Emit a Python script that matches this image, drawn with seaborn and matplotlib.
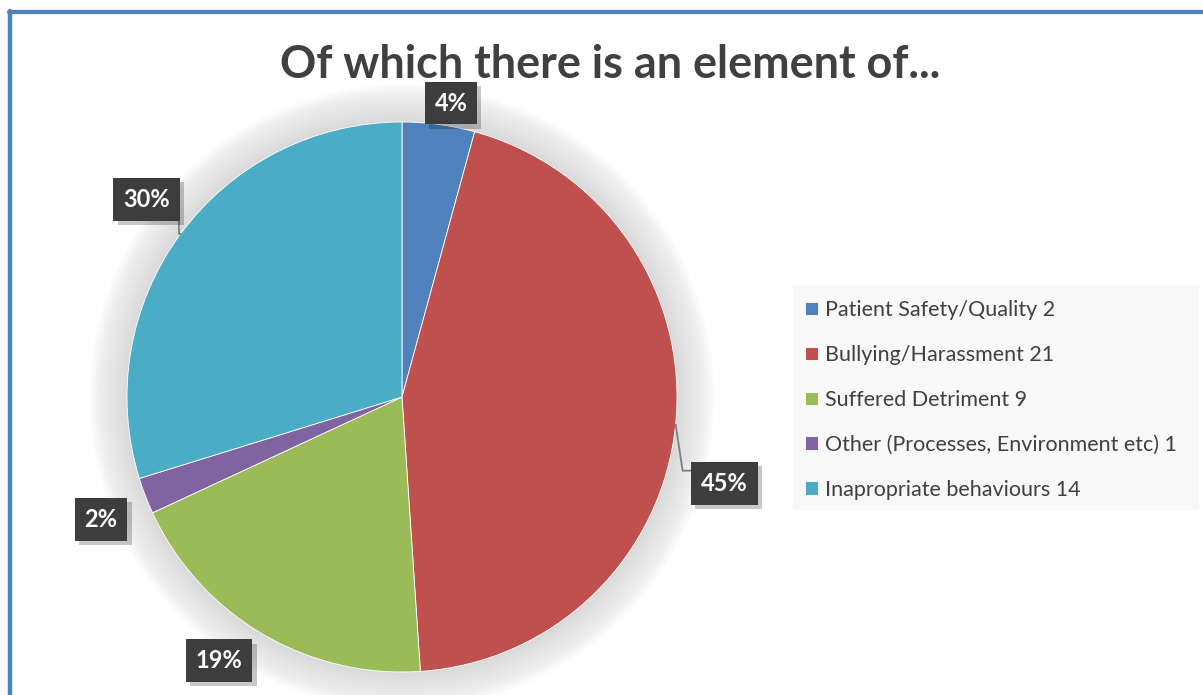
import numpy as np
import matplotlib
matplotlib.use("Agg")
import matplotlib.pyplot as plt
import matplotlib.patheffects as pe
from matplotlib.patches import Circle, Rectangle
from matplotlib.lines import Line2D
import seaborn as sns

# Complaint categories and counts
categories = [
    "Patient Safety/Quality",
    "Bullying/Harassment",
    "Suffered Detriment",
    "Other (Processes, Environment etc)",
    "Inapropriate behaviours",
]
counts = [2, 21, 9, 1, 14]
title = "Of which there is an element of..."

sns.set_theme(style="white")
plt.rcParams["font.family"] = ["Lato", "DejaVu Sans"]

palette = sns.color_palette(["#4F81BD", "#C0504D", "#9BBB59", "#8064A2", "#4BACC6"])
legend_labels = [f"{c} {n}" for c, n in zip(categories, counts)]

W, H = 1203, 695
fig = plt.figure(figsize=(W / 100, H / 100), dpi=100)
fig.patch.set_facecolor("white")
ax = fig.add_axes([0, 0, 1, 1])

cx, cy, R = 402, H - 397, 275

# soft glow behind the pie
n_layers = 30
for i in range(n_layers):
    r = R + 38 * (1 - i / n_layers)
    ax.add_patch(Circle((cx, cy), r, color="#707070", alpha=0.006, lw=0, zorder=1))

wedges, _ = ax.pie(
    counts, colors=palette, startangle=90, counterclock=False,
    center=(cx, cy), radius=R, frame=True,
    wedgeprops=dict(edgecolor="white", linewidth=0.6, zorder=2),
)
ax.set_xlim(0, W)
ax.set_ylim(0, H)
ax.set_aspect("equal")
ax.axis("off")

total = sum(counts)
pct_labels = [f"{round(100 * v / total):d}%" for v in counts]

# label placement: radius and angle nudge (degrees) relative to each wedge's middle
label_r = [298, 334, 321, 325, 323]
label_dtheta = [-1.8, -9.3, -4.1, 1.1, -1.4]

for i, (w, lab, lr, dth) in enumerate(zip(wedges, pct_labels, label_r, label_dtheta)):
    mid = 0.5 * (w.theta1 + w.theta2)
    ang = np.deg2rad(mid + dth)
    tx, ty = cx + lr * np.cos(ang), cy + lr * np.sin(ang)
    t = ax.text(tx, ty, lab, ha="center", va="center", fontsize=17,
                fontweight="bold", color="white", zorder=6,
                bbox=dict(boxstyle="square,pad=0.42", fc="#3d3d3d", ec="none", lw=0))
    t.get_bbox_patch().set_path_effects(
        [pe.SimplePatchShadow(offset=(3, -3), shadow_rgbFace="#000000", alpha=0.22), pe.Normal()])

    am = np.deg2rad(mid)
    ax_, ay_ = cx + R * np.cos(am), cy + R * np.sin(am)
    if i == 1:
        # leader to the box's left side
        ex, ey = ax_ + 7, ty + 13
        ax.plot([ax_, ex, tx - 32], [ay_, ey, ey], color="#7f7f7f", lw=1.3, zorder=5)
    elif i == 4:
        # leader from the box's lower right corner
        ax.plot([tx + 32, tx + 32, ax_], [ty - 8, ay_, ay_], color="#7f7f7f", lw=1.3, zorder=5)

# title
fig.text(610 / W, 1 - 78 / H, title, ha="center", va="baseline", fontsize=32.4,
         fontweight="bold", color="#404040")

# legend panel
fig.add_artist(Rectangle((793 / W, 1 - 510 / H), (1199 - 793) / W, (510 - 285) / H,
                         transform=fig.transFigure, fc="#f8f8f8", ec="none", zorder=0))
leg = fig.legend(wedges, legend_labels, loc="upper left",
                 bbox_to_anchor=(805 / W, 1 - 300 / H), frameon=False,
                 fontsize=15.5, handlelength=0.6, handleheight=0.6,
                 handletextpad=0.33, labelspacing=1.16, borderpad=0, borderaxespad=0)
for txt in leg.get_texts():
    txt.set_color("#404040")

# chart frame (top and left edges)
frame_c = "#4F81BD"
fig.add_artist(Line2D([9 / W, 1], [1 - 12 / H, 1 - 12 / H], transform=fig.transFigure,
                      color=frame_c, lw=3))
fig.add_artist(Line2D([10 / W, 10 / W], [0, 1 - 11 / H], transform=fig.transFigure,
                      color=frame_c, lw=3.2))

fig.savefig("out.png", dpi=100, facecolor="white")
